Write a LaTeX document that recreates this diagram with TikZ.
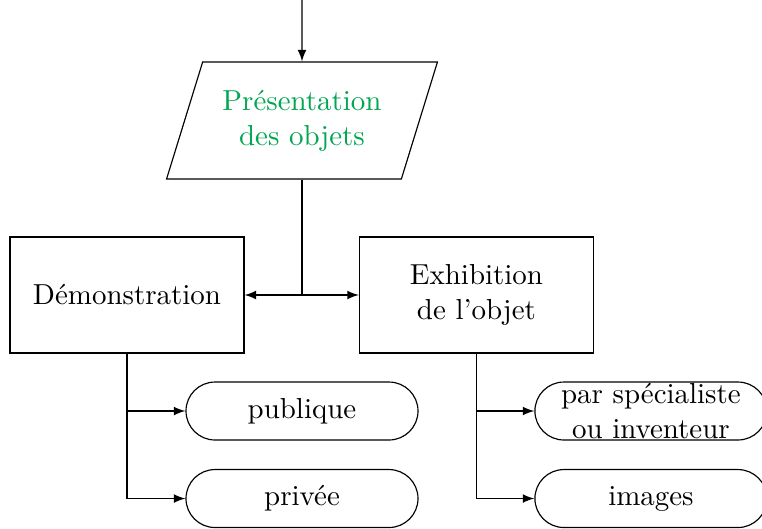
\documentclass[tikz,border=0pt]{standalone}
\usepackage[usenames,dvipsnames]{xcolor}
\usepackage{tikz}
\usetikzlibrary{arrows,shapes,calc,positioning}
\definecolor{presgreen}{RGB}{0,166,81}

\begin{document}
\begin{tikzpicture}[>=latex,
  inbox/.style={draw, trapezium, trapezium left angle=68, trapezium right angle=112,
    trapezium stretches=true, minimum width=3.291cm, minimum height=1.421cm,
    align=center, text=presgreen},
  actbox/.style={draw, rectangle, minimum width=2.842cm, minimum height=1.409cm, align=center},
  kindbox/.style={draw, rectangle, rounded corners=0.352cm, minimum width=2.818cm,
    minimum height=0.704cm, inner sep=0pt, align=center}]
\useasboundingbox (0,0) rectangle (9.255,6.425);

\coordinate (entry) at (3.668,6.425);
\node[inbox] (pres) at (3.668,4.961) {Pr\'esentation\\des objets};

\node[actbox] (demo) at (1.542,2.842) {D\'emonstration};
\node[actbox] (exhib) at (5.787,2.842) {Exhibition\\de l'objet};

\node[kindbox] (pub) at (3.668,1.433) {publique};
\node[kindbox] (priv) at (3.668,0.370) {priv\'ee};
\node[kindbox] (spec) at (7.906,1.433) {par sp\'ecialiste\\ou inventeur};
\node[kindbox] (img) at (7.906,0.370) {images};

%\node (A1) at (3.668,2.842) {};
\coordinate (split) at (pres.south |- demo.east);

\draw[->] (entry) -- (pres);
\draw (pres.south) -- (split);
\draw[->] (split) -- (demo.east);
\draw[->] (split) -- (exhib.west);

\draw[->] (demo.south) |- (pub.west);
\draw[->] (demo.south) |- (priv.west);
\draw[->] (exhib.south) |- (spec.west);
\draw[->] (exhib.south) |- (img.west);
\end{tikzpicture}
\end{document}
